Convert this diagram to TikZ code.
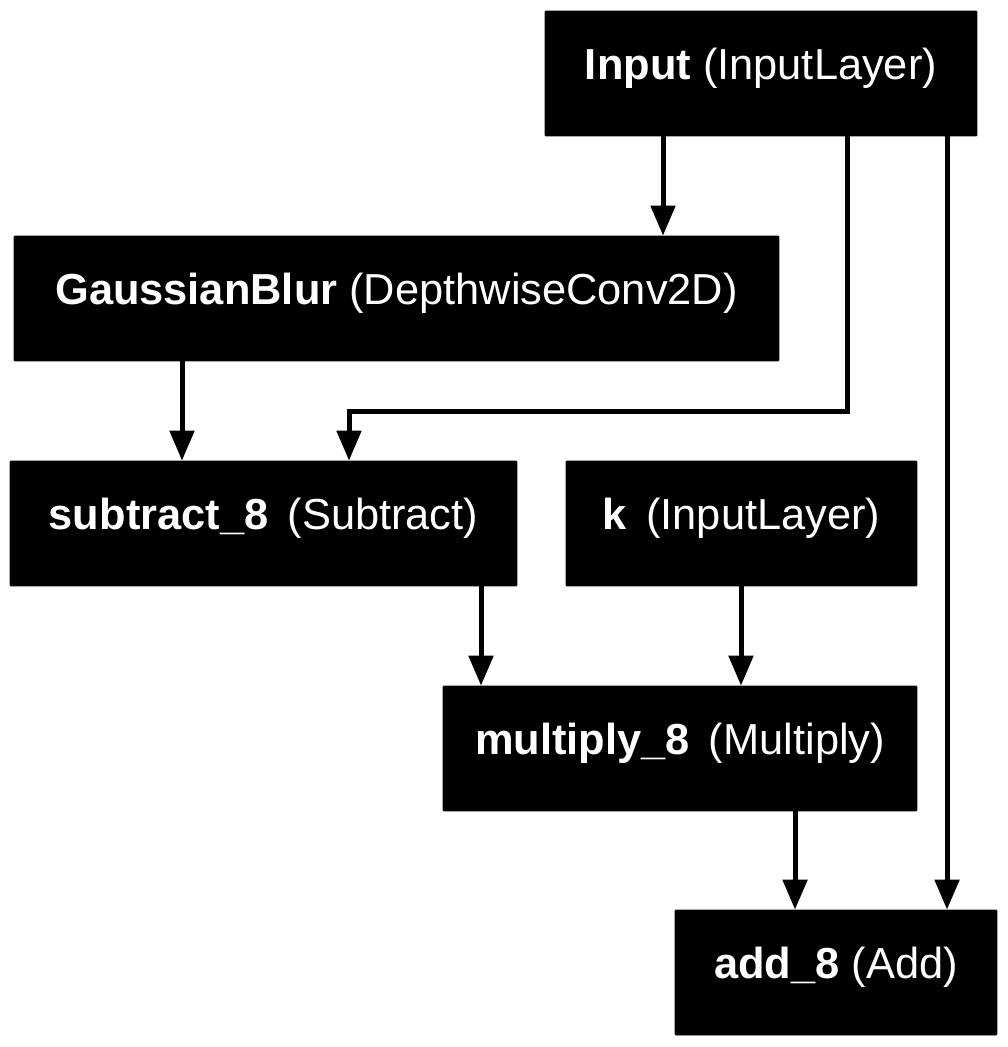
\documentclass[tikz,border=0pt]{standalone}
\usepackage{fontspec}
\setmainfont{Liberation Sans}
\usetikzlibrary{arrows.meta}
\begin{document}
\begin{tikzpicture}[x=0.02cm,y=-0.02cm,
  layerbox/.style={draw=black,fill=black,text=white,rounded corners=0.5pt,
    minimum height=2.5cm,inner sep=0pt,text height=0.66cm,text depth=0.42cm,
    font=\fontsize{24.7pt}{30pt}\selectfont},
  conn/.style={line width=0.1cm,-{Triangle[length=0.6cm,width=0.48cm]}}]
\useasboundingbox (0,0) rectangle (1007,1047);
\node[layerbox,minimum width=8.64cm] (inp) at (761,73.5) {\textbf{Input} (InputLayer)};
\node[layerbox,minimum width=15.3cm] (gb) at (396.5,298.5) {\textbf{GaussianBlur} (DepthwiseConv2D)};
\node[layerbox,minimum width=10.14cm] (sub) at (263.5,523.5) {\textbf{subtract\_8} \,(Subtract)};
\node[layerbox,minimum width=7.02cm] (k) at (741.5,523.5) {\textbf{k} \,(InputLayer)};
\node[layerbox,minimum width=9.48cm] (mul) at (680,748.5) {\textbf{multiply\_8} \,(Multiply)};
\node[layerbox,minimum width=6.44cm] (add) at (836,972.5) {\textbf{add\_8} (Add)};
\coordinate (xa) at (663,0);
\coordinate (xb) at (847,0);
\coordinate (xc) at (947,0);
\coordinate (xd) at (182,0);
\coordinate (xe) at (349,0);
\coordinate (xf) at (481,0);
\coordinate (xg) at (741,0);
\coordinate (xh) at (795,0);
\coordinate (bend1) at (847,411);
\coordinate (bend2) at (349,411);
\draw[conn] (inp.south -| xa) -- (gb.north -| xa);
\draw[conn] (inp.south -| xb) -- (bend1) -- (bend2) -- (sub.north -| xe);
\draw[conn] (inp.south -| xc) -- (add.north -| xc);
\draw[conn] (gb.south -| xd) -- (sub.north -| xd);
\draw[conn] (sub.south -| xf) -- (mul.north -| xf);
\draw[conn] (k.south -| xg) -- (mul.north -| xg);
\draw[conn] (mul.south -| xh) -- (add.north -| xh);
\end{tikzpicture}
\end{document}
